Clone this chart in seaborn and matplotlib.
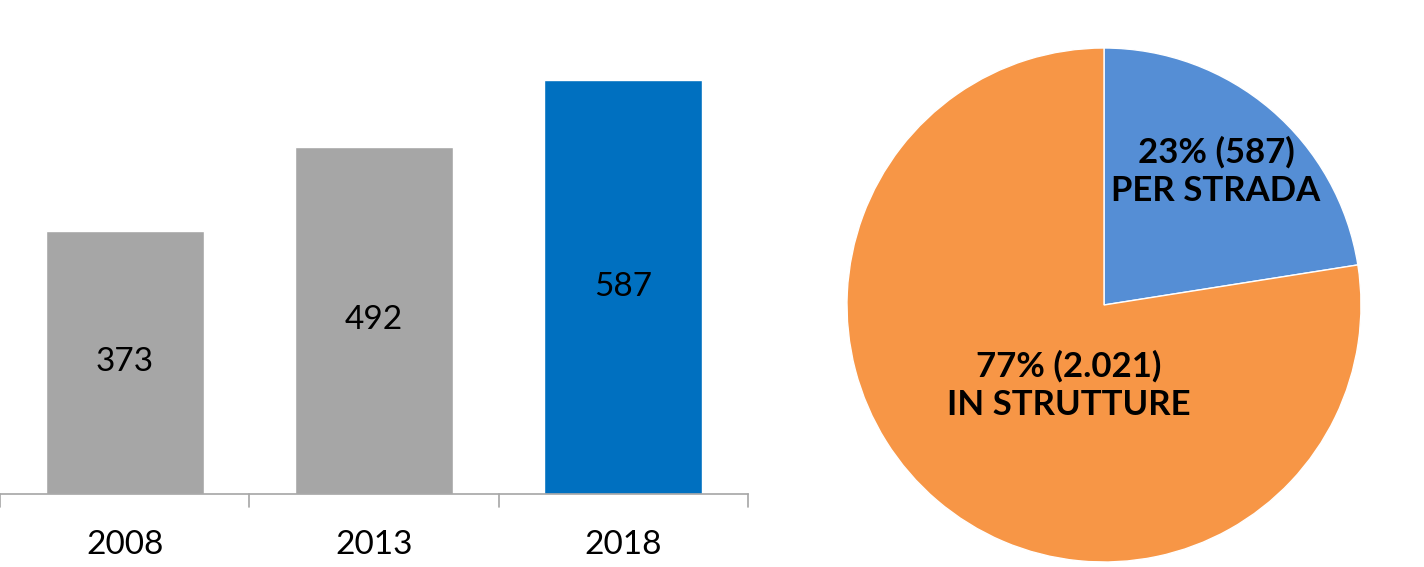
import matplotlib
matplotlib.use("Agg")
import matplotlib.pyplot as plt
import seaborn as sns
import pandas as pd

years = ["2008", "2013", "2018"]
counts = [373, 492, 587]
bar_colors = ["#A6A6A6", "#A6A6A6", "#0070C0"]

pie_labels = ["PER STRADA", "IN STRUTTURE"]
pie_values = [587, 2021]
pie_pct = [23, 77]
pie_count_text = ["587", "2.021"]
pie_colors = ["#558ED5", "#F79646"]

sns.set_theme(style="white")
plt.rcParams["font.family"] = ["Lato", "DejaVu Sans"]
plt.rcParams["text.color"] = "black"

fig = plt.figure(figsize=(14.24, 5.67), dpi=100)

# Bar chart
ax = fig.add_axes([0.0, 73/567, 748/1424, 494/567])
df = pd.DataFrame({"year": years, "count": counts})
sns.barplot(data=df, x="year", y="count", hue="year", palette=bar_colors,
            width=0.635, legend=False, ax=ax, saturation=1)
ax.set_ylim(0, 700)
ax.set_xlim(-0.5, 2.5)
ax.set_xlabel("")
ax.set_ylabel("")
ax.set_yticks([])
for s in ["top", "right", "left"]:
    ax.spines[s].set_visible(False)
ax.spines["bottom"].set_color("#A6A6A6")
ax.spines["bottom"].set_linewidth(1.2)
ax.set_xticks([0, 1, 2])
ax.set_xticklabels(years, fontsize=24, color="black")
ax.tick_params(axis="x", length=0, pad=26)
# category boundary ticks
for b in [-0.5, 0.5, 1.5, 2.5]:
    ax.plot([b, b], [0, -0.027 * 700], color="#A6A6A6", lw=1.2, clip_on=False)
for i, v in enumerate(counts):
    ax.text(i, v / 2, str(v), ha="center", va="center", fontsize=24, color="black")

# Pie chart
pax = fig.add_axes([(1104 - 257) / 1424, 5 / 567, 514 / 1424, 514 / 567])
wedges, _ = pax.pie(pie_values, colors=pie_colors, startangle=90, counterclock=False,
                    radius=1.0)
pax.set_xlim(-1, 1)
pax.set_ylim(-1, 1)
pax.set_aspect("auto")
pax.axis("off")
pax.text(0.436, 0.52, f"{pie_pct[0]}% ({pie_count_text[0]})\n{pie_labels[0]}",
         ha="center", va="center", fontsize=25, fontweight="bold", linespacing=1.25,
         color="black")
pax.text(-0.136, -0.315, f"{pie_pct[1]}% ({pie_count_text[1]})\n{pie_labels[1]}",
         ha="center", va="center", fontsize=25, fontweight="bold", linespacing=1.25,
         color="black")

fig.savefig("out.png", dpi=100)
